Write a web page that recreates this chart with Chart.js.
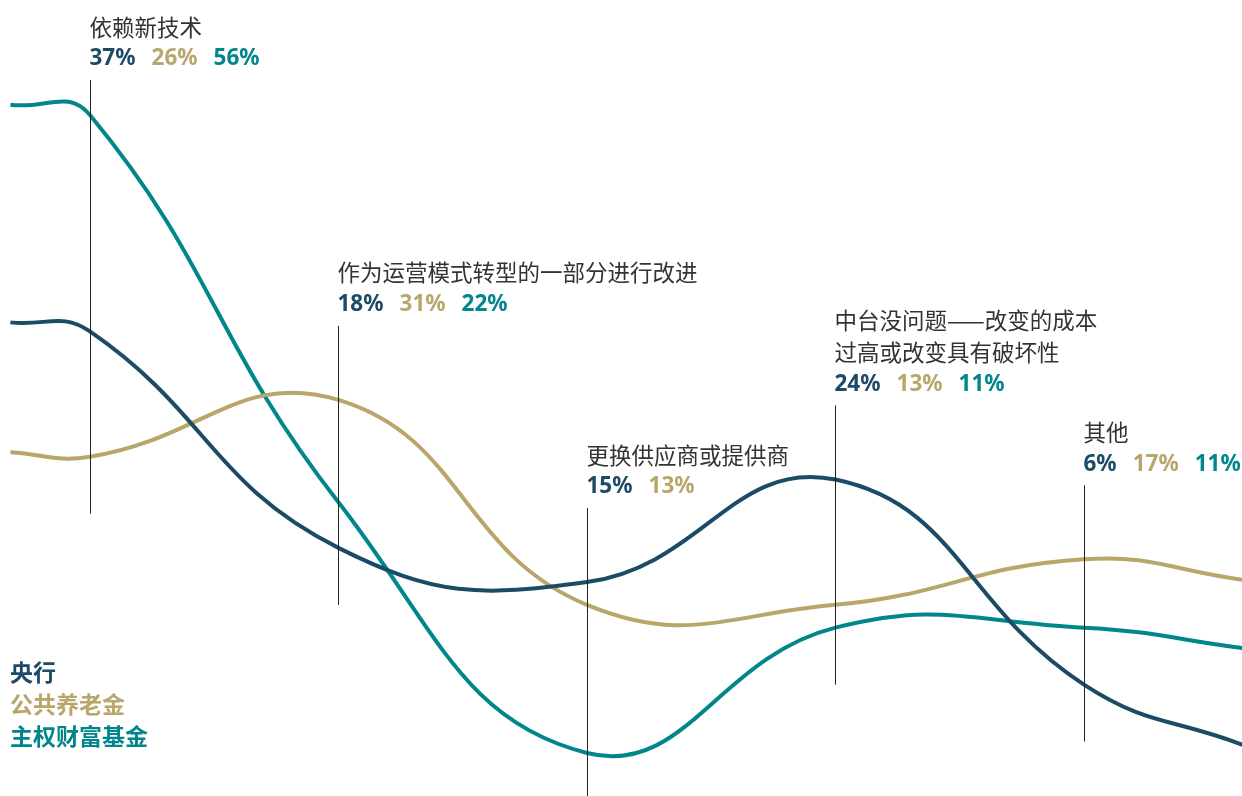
<!DOCTYPE html>
<html>
<head>
<meta charset="utf-8">
<script src="https://cdn.jsdelivr.net/npm/chart.js@4"></script>
<style>
  html, body { margin: 0; padding: 0; background: #fff; }
  #wrap { width: 1242px; height: 796px; position: relative; }
</style>
</head>
<body>
<div id="wrap"><canvas id="myChart"></canvas></div>
<script>
// 类别（多行标题用数组）
const categories = [
  ['依赖新技术'],
  ['作为运营模式转型的一部分进行改进'],
  ['更换供应商或提供商'],
  ['中台没问题——改变的成本', '过高或改变具有破坏性'],
  ['其他']
];
const seriesNames = ['央行', '公共养老金', '主权财富基金'];
const seriesColors = ['#1b4b66', '#b8a66b', '#00868b'];

// 各类别占比（%）
const centralBank = [37, 18, 15, 24, 6];
const pensionFund = [26, 31, 13, 13, 17];
const sovereignFund = [56, 22, 0, 11, 11];

// 曲线两端的引入/引出点（不标注）
const edgeX = [-0.32, 4.64];
const leadIn = [37.8, 26.4, 56.9];
const leadOut = [0.7, 15.2, 9.2];

const allSeries = [centralBank, pensionFund, sovereignFund];

function toPoints(values, s) {
  const pts = [{ x: edgeX[0], y: leadIn[s] }];
  values.forEach((v, i) => pts.push({ x: i, y: v }));
  pts.push({ x: edgeX[1], y: leadOut[s] });
  return pts;
}

const cjk = '"Noto Sans CJK SC", "Noto Sans", sans-serif';
Chart.defaults.font.family = cjk;

// 类别竖线 + 标题 + 百分比 + 左下角图例
const annotate = {
  id: 'annotate',
  afterDatasetsDraw(chart) {
    const ctx = chart.ctx;
    const xs = chart.scales.x;
    const ys = chart.scales.y;
    const area = chart.chartArea;
    ctx.save();
    categories.forEach((title, i) => {
      const vals = allSeries.map(s => s[i]);
      const px = Math.round(xs.getPixelForValue(i)) + 0.5;
      const top = Math.max(ys.getPixelForValue(Math.max(...vals) + 6.5), area.top + 80);
      const bottom = Math.min(ys.getPixelForValue(Math.min(...vals) - 5), area.bottom);

      ctx.strokeStyle = '#222';
      ctx.lineWidth = 1;
      ctx.beginPath();
      ctx.moveTo(px, top);
      ctx.lineTo(px, bottom);
      ctx.stroke();

      ctx.textBaseline = 'middle';
      ctx.textAlign = 'left';
      ctx.fillStyle = '#333';
      ctx.font = '400 22.5px ' + cjk;
      title.forEach((line, k) => {
        ctx.fillText(line, px - 1, top - 53 - 32 * (title.length - 1 - k));
      });

      ctx.font = '700 22.5px "Noto Sans", sans-serif';
      let tx = px - 1;
      vals.forEach((v, s) => {
        if (!v) return;
        const txt = v + '%';
        ctx.fillStyle = seriesColors[s];
        ctx.fillText(txt, tx, top - 21);
        tx += ctx.measureText(txt).width + 16;
      });
    });

    ctx.font = '700 23px ' + cjk;
    ctx.textBaseline = 'middle';
    seriesNames.forEach((name, s) => {
      ctx.fillStyle = seriesColors[s];
      ctx.fillText(name, area.left + 10, area.bottom - 124 + s * 32);
    });
    ctx.restore();
  }
};

new Chart(document.getElementById('myChart'), {
  type: 'line',
  data: {
    datasets: allSeries.map((vals, s) => ({
      label: seriesNames[s],
      data: toPoints(vals, s),
      borderColor: seriesColors[s],
      borderWidth: 4,
      pointRadius: 0,
      tension: 0.45,
      fill: false
    }))
  },
  options: {
    responsive: true,
    maintainAspectRatio: false,
    animation: false,
    layout: { padding: 0 },
    scales: {
      x: { type: 'linear', min: -0.362, max: 4.636, display: false },
      y: { min: -3.78, max: 66.1, display: false }
    },
    plugins: {
      legend: { display: false },
      tooltip: { enabled: false }
    }
  },
  plugins: [annotate]
});
</script>
</body>
</html>
